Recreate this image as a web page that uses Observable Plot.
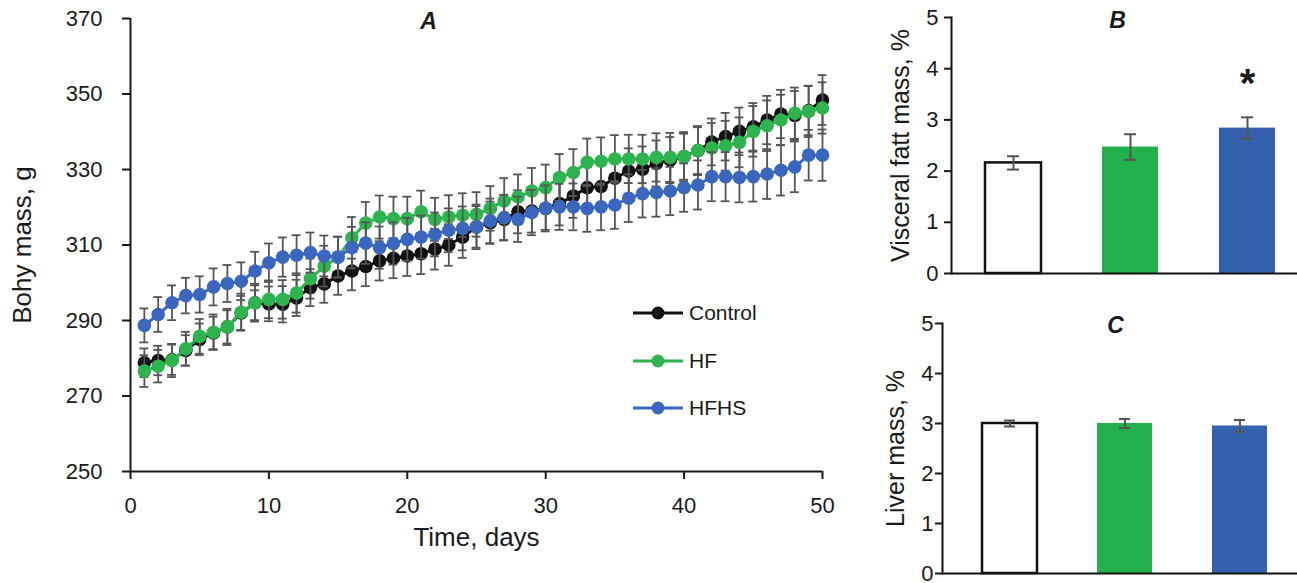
<!DOCTYPE html>
<html><head><meta charset="utf-8">
<script src="https://cdn.jsdelivr.net/npm/d3@7"></script>
<script src="https://cdn.jsdelivr.net/npm/@observablehq/plot@0.6"></script>
<style>
body{margin:0;background:#fff;font-family:"Liberation Sans",Arial,sans-serif;}
#wrap{position:relative;width:1297px;height:583px;overflow:hidden;}
.panel{position:absolute;}
.leg{position:absolute;display:flex;align-items:center;font-size:21px;color:#1a1a1a;height:24px;}
.leg svg{margin-right:6px;}
</style></head><body><div id="wrap"></div>
<script>
const groups = ["Control", "HF", "HFHS"];
const lineColors = ["#111111", "#2db44e", "#3a66bd"];
const barColors = ["#ffffff", "#22b14c", "#3560ae"];
const days = d3.range(1, 51);
const dayTicks = [0, 10, 20, 30, 40, 50];
const massTicks = [250, 270, 290, 310, 330, 350, 370];
const pctTicks = [0, 1, 2, 3, 4, 5];

const controlMass = [278.8,279.4,279.6,282.1,285.0,286.7,288.3,292.0,294.7,294.4,
  294.3,296.0,298.7,299.7,301.8,303.1,304.3,305.8,306.5,307.1,
  307.7,308.9,310.0,312.1,314.8,315.9,316.8,318.8,319.0,319.7,
  321.0,323.0,325.2,325.5,327.7,329.6,330.1,331.6,332.5,333.4,
  335.0,337.3,338.7,340.1,341.3,343.1,344.7,344.3,345.6,348.4];
const hfMass = [276.6,277.9,279.4,282.5,285.8,286.9,288.3,292.2,294.7,295.6,
  295.6,297.3,301.1,304.4,306.8,311.9,315.8,317.4,317.0,317.0,
  318.8,316.8,317.4,317.9,318.1,319.7,321.7,322.7,324.3,325.2,
  327.9,329.2,331.9,332.2,332.8,332.8,332.8,333.2,333.2,333.4,
  335.0,335.7,336.3,337.2,340.1,341.6,343.1,344.9,345.4,346.3];
const hfhsMass = [288.7,291.6,294.7,296.6,296.9,298.9,299.8,300.4,303.1,305.3,
  306.8,307.3,308.0,307.1,306.8,309.3,310.5,309.3,310.4,311.5,
  312.1,312.8,313.9,314.4,314.8,316.4,317.3,316.8,318.6,319.7,
  320.1,320.1,319.7,320.1,320.6,322.4,323.6,323.9,324.3,325.2,
  325.9,328.1,328.1,327.9,328.1,328.8,329.8,330.7,333.8,333.8];

const controlErr = [3.8,3.9,4.0,4.0,4.2,4.3,4.4,4.5,4.6,4.6,
  4.8,4.8,4.9,5.0,5.0,5.1,5.2,5.2,5.3,5.3,
  5.4,5.4,5.5,5.5,5.5,5.6,5.6,5.7,5.7,5.7,
  5.8,5.8,5.9,5.9,6.0,6.0,6.0,6.1,6.1,6.1,
  6.2,6.2,6.3,6.3,6.3,6.4,6.4,6.5,6.5,6.6];
const hfErr = [4.2,4.3,4.4,4.5,4.6,4.7,4.8,4.9,5.0,5.0,
  5.1,5.2,5.3,5.4,5.4,5.5,5.6,5.7,5.8,5.8,
  5.6,5.7,5.8,5.8,5.9,5.9,6.0,6.0,6.1,6.1,
  6.2,6.2,6.3,6.3,6.3,6.4,6.4,6.4,6.5,6.5,
  6.5,6.6,6.6,6.6,6.7,6.7,6.7,6.8,6.8,6.8];
const hfhsErr = [4.5,4.6,4.6,4.7,4.8,4.9,4.9,5.0,5.1,5.1,
  5.2,5.3,5.3,5.4,5.4,5.5,5.5,5.6,5.6,5.7,
  5.7,5.8,5.8,5.8,5.9,5.9,6.0,6.0,6.0,6.1,
  6.1,6.2,6.2,6.2,6.3,6.3,6.3,6.4,6.4,6.4,
  6.5,6.5,6.5,6.6,6.6,6.6,6.7,6.7,6.7,6.8];

const visceralFat = [2.16, 2.47, 2.84];
const visceralFatErr = [0.13, 0.25, 0.21];
const liverMass = [3.0, 3.0, 2.95];
const liverMassErr = [0.06, 0.09, 0.12];
const significance = ["", "", "*"];

const font = '"Liberation Sans", Arial, sans-serif';
const wrap = document.getElementById("wrap");
function place(node, left, top) {
  node.classList.add("panel");
  node.style.left = left + "px";
  node.style.top = top + "px";
  wrap.appendChild(node);
}

// ---------- Panel A ----------
const massSeries = [controlMass, hfMass, hfhsMass];
const errSeries = [controlErr, hfErr, hfhsErr];
const massRows = groups.flatMap((g, i) => days.map((d, j) => ({group: g, day: d, mass: massSeries[i][j], err: errSeries[i][j]})));

const seriesMarks = groups.flatMap((g, i) => {
  const rows = massRows.filter(r => r.group === g);
  return [
    Plot.ruleX(rows, {x: "day", y1: d => d.mass - d.err, y2: d => d.mass + d.err, stroke: "#555", strokeWidth: 1.8}),
    Plot.ruleY(rows, {y: d => d.mass + d.err, x1: d => d.day - 0.32, x2: d => d.day + 0.32, stroke: "#555", strokeWidth: 1.8}),
    Plot.ruleY(rows, {y: d => d.mass - d.err, x1: d => d.day - 0.32, x2: d => d.day + 0.32, stroke: "#555", strokeWidth: 1.8}),
    Plot.line(rows, {x: "day", y: "mass", stroke: lineColors[i], strokeWidth: 3}),
    Plot.dot(rows, {x: "day", y: "mass", fill: lineColors[i], r: 6.8})
  ];
});

const plotA = Plot.plot({
  width: 860, height: 583,
  marginLeft: 130, marginRight: 38, marginTop: 18, marginBottom: 112,
  style: {fontFamily: font, fontSize: "22px", color: "#1a1a1a", background: "transparent", overflow: "visible"},
  x: {domain: [0, 50], label: null},
  y: {domain: [250, 370], label: null},
  marks: [
    Plot.axisX({ticks: dayTicks, tickSize: 8, tickPadding: 18, strokeWidth: 2, fontSize: 22, label: null}),
    Plot.axisY({ticks: massTicks, tickSize: 8, tickPadding: 20, strokeWidth: 2, fontSize: 22, label: null}),
    Plot.ruleX([0], {strokeWidth: 2}),
    Plot.ruleY([250], {strokeWidth: 2}),
    ...seriesMarks,
    Plot.text(["A"], {frameAnchor: "top-left", textAnchor: "middle", lineAnchor: "middle", dx: 298, dy: 3, fontSize: 23, fontWeight: "bold", fontStyle: "italic"}),
    Plot.text(["Time, days"], {frameAnchor: "bottom", textAnchor: "middle", dy: 74, fontSize: 26}),
    Plot.text(["Bohy mass, g"], {frameAnchor: "left", textAnchor: "middle", rotate: -90, dx: -108, fontSize: 26})
  ]
});
place(plotA, 0, 0);

// legend
groups.forEach((g, i) => {
  const div = document.createElement("div");
  div.className = "leg";
  div.style.left = "633px";
  div.style.top = (301 + i * 47.5) + "px";
  div.innerHTML = `<svg width="50" height="24"><line x1="0" y1="12" x2="50" y2="12" stroke="${lineColors[i]}" stroke-width="3"/><circle cx="25" cy="12" r="6.5" fill="${lineColors[i]}"/></svg><span>${g}</span>`;
  wrap.appendChild(div);
});

// ---------- Bar panels ----------
function barPanel(values, errs, opts) {
  const rows = groups.map((g, i) => ({group: g, value: values[i], err: errs[i], mark: opts.marks ? opts.marks[i] : ""}));
  return Plot.plot({
    width: 437, height: opts.height,
    marginLeft: opts.marginLeft, marginRight: 0, marginTop: opts.marginTop, marginBottom: opts.marginBottom,
    style: {fontFamily: font, fontSize: "22px", color: "#1a1a1a", background: "transparent", overflow: "visible"},
    x: {type: "band", domain: groups, range: opts.range, paddingInner: 0.525, paddingOuter: 0.25, axis: null},
    y: {domain: [0, 5], label: null},
    color: {domain: groups, range: barColors},
    marks: [
      Plot.axisY({ticks: pctTicks, tickFormat: d3.format("d"), tickSize: 7, tickPadding: opts.tickPadding, strokeWidth: 2, fontSize: 22, label: null}),
      Plot.barY(rows, {x: "group", y: "value", fill: "group"}),
      Plot.barY(rows.filter(d => d.group === "Control"), {x: "group", y: "value", fill: "none", stroke: "#111", strokeWidth: 2.5}),
      Plot.ruleX(rows, {x: "group", y1: d => d.value - d.err, y2: d => d.value + d.err, stroke: "#555", strokeWidth: 2}),
      Plot.tickY(rows, {x: "group", y: d => d.value + d.err, insetLeft: 22, insetRight: 22, stroke: "#555", strokeWidth: 2}),
      Plot.tickY(rows, {x: "group", y: d => d.value - d.err, insetLeft: 22, insetRight: 22, stroke: "#555", strokeWidth: 2}),
      Plot.text(rows, {x: "group", y: d => d.value + d.err, text: "mark", dy: -20, fontSize: 40, fontWeight: "bold", lineAnchor: "bottom"}),
      Plot.frame({anchor: "left", strokeWidth: 2, stroke: "#111"}),
      Plot.ruleY([0], {strokeWidth: 2, stroke: "#111"}),
      Plot.text([opts.title], {frameAnchor: "top-left", textAnchor: "middle", lineAnchor: "middle", dx: opts.titleDx, dy: opts.titleDy, fontSize: 23, fontWeight: "bold", fontStyle: "italic"}),
      Plot.text([opts.label], {frameAnchor: "left", textAnchor: "middle", rotate: -90, dx: opts.labelDx, fontSize: 25})
    ]
  });
}

const plotB = barPanel(visceralFat, visceralFatErr, {
  height: 290, marginLeft: 91, marginTop: 17, marginBottom: 17, range: [94, 445], tickPadding: 6,
  title: "B", titleDx: 166, titleDy: 3, label: "Visceral fatt mass, %", labelDx: -51, marks: significance
});
place(plotB, 860, 0);

const plotC = barPanel(liverMass, liverMassErr, {
  height: 283, marginLeft: 82, marginTop: 23, marginBottom: 10, range: [93, 436], tickPadding: 2,
  title: "C", titleDx: 173, titleDy: 2, label: "Liver mass, %", labelDx: -47
});
place(plotC, 860, 300);
</script>
</body></html>
